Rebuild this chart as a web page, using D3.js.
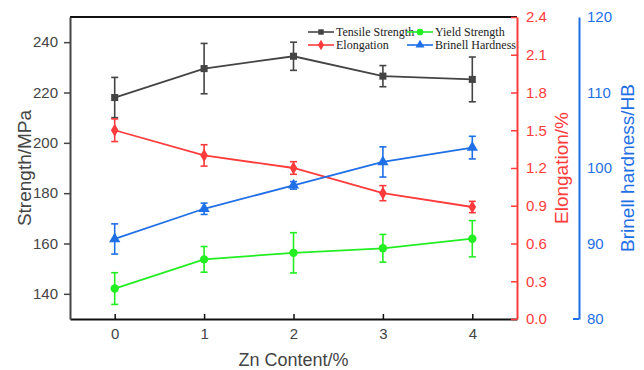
<!DOCTYPE html>
<html>
<head>
<meta charset="utf-8">
<script src="https://cdn.jsdelivr.net/npm/d3@7"></script>
<style>
  body { margin: 0; background: #fff; }
  svg { display: block; }
</style>
</head>
<body>
<script>
// values
const znContent = [0, 1, 2, 3, 4];
const tensile = [218, 229.5, 234.4, 226.5, 225.2];
const tensileErr = [8, 10, 5.6, 4.2, 8.9];
const yieldStrength = [142.1, 153.7, 156.3, 158.1, 161.9];
const yieldErr = [6.3, 5.1, 8, 5.5, 7.2];
const elongation = [1.50, 1.30, 1.20, 1.00, 0.89];
const elongationErr = [0.09, 0.085, 0.05, 0.06, 0.045];
const hardness = [90.6, 94.6, 97.7, 100.8, 102.7];
const hardnessErr = [2, 0.75, 0.5, 2, 1.5];
const strengthTicks = [140, 160, 180, 200, 220, 240];
const elongationTicks = [0, 0.3, 0.6, 0.9, 1.2, 1.5, 1.8, 2.1, 2.4];
const hardnessTicks = [80, 90, 100, 110, 120];

const width = 644, height = 370;
const plotL = 70, plotR = 517, plotT = 17, plotB = 319;
const sans = "Arial, 'Liberation Sans', sans-serif";
const serif = "'Liberation Serif', 'Times New Roman', serif";
const gray = "#444", green = "#22ee22", red = "#ff3b3b", blue = "#1f6fe6";

const svg = d3.select("body").append("svg")
  .attr("width", width)
  .attr("height", height);

const x = d3.scaleLinear().domain([-0.5, 4.5]).range([plotL, plotR]);
const yL = d3.scaleLinear().domain([130, 250]).range([plotB, plotT]);
const yE = d3.scaleLinear().domain([0, 2.4]).range([plotB, plotT]);
const yH = d3.scaleLinear().domain([80, 120]).range([plotB, plotT]);

// top frame line
svg.append("line")
  .attr("x1", plotL).attr("x2", plotR).attr("y1", plotT).attr("y2", plotT)
  .attr("stroke", "#111").attr("stroke-width", 2);

// x axis (ticks point inward)
const xAxis = svg.append("g").attr("transform", `translate(0,${plotB})`);
xAxis.call(d3.axisBottom(x).tickValues([0.5, 1.5, 2.5, 3.5]).tickSizeInner(-3).tickSizeOuter(0).tickFormat(""));
xAxis.call(d3.axisBottom(x).tickValues(znContent).tickSizeInner(-5).tickSizeOuter(0).tickPadding(9).tickFormat(d3.format("d")));
xAxis.selectAll(".domain").attr("stroke", "#111").attr("stroke-width", 2);
xAxis.selectAll(".tick line").attr("stroke", "#111").attr("stroke-width", 1.5);
xAxis.selectAll("text").attr("font-family", sans).attr("font-size", 15).attr("fill", gray);

// left strength axis
const lAxis = svg.append("g").attr("transform", `translate(${plotL},0)`);
lAxis.call(d3.axisLeft(yL).tickValues([150, 170, 190, 210, 230]).tickSizeInner(3).tickSizeOuter(0).tickFormat(""));
lAxis.call(d3.axisLeft(yL).tickValues(strengthTicks).tickSizeInner(6).tickSizeOuter(0).tickPadding(6));
lAxis.selectAll(".domain").attr("stroke", gray).attr("stroke-width", 2);
lAxis.selectAll(".tick line").attr("stroke", gray).attr("stroke-width", 1.5);
lAxis.selectAll("text").attr("font-family", sans).attr("font-size", 15).attr("fill", gray);

// right elongation axis (ticks point inward, labels outside)
const eAxis = svg.append("g").attr("transform", `translate(${plotR},0)`);
eAxis.call(d3.axisRight(yE).tickValues(d3.range(0.15, 2.4, 0.3)).tickSizeInner(-3).tickSizeOuter(0).tickFormat(""));
eAxis.call(d3.axisRight(yE).tickValues(elongationTicks).tickSizeInner(-6).tickSizeOuter(0).tickPadding(9).tickFormat(d3.format(".1f")));
eAxis.selectAll(".domain").attr("stroke", red).attr("stroke-width", 2);
eAxis.selectAll(".tick line").attr("stroke", red).attr("stroke-width", 1.5);
eAxis.selectAll("text").attr("font-family", sans).attr("font-size", 15).attr("fill", red);

// far right hardness axis
const hx = 579;
const hAxis = svg.append("g").attr("transform", `translate(${hx},0)`);
hAxis.call(d3.axisRight(yH).tickValues([85, 95, 105, 115]).tickSizeInner(-3).tickSizeOuter(0).tickFormat(""));
hAxis.call(d3.axisRight(yH).tickValues(hardnessTicks).tickSizeInner(0).tickSizeOuter(0).tickPadding(8));
hAxis.selectAll(".domain").attr("stroke", blue).attr("stroke-width", 2);
hAxis.selectAll(".tick line").attr("stroke", blue).attr("stroke-width", 1.5);
hAxis.selectAll("text").attr("font-family", sans).attr("font-size", 15).attr("fill", blue);
hAxis.append("line").attr("x1", -6).attr("x2", 0).attr("y1", plotB).attr("y2", plotB)
  .attr("stroke", blue).attr("stroke-width", 2);

// axis titles
svg.append("text")
  .attr("transform", `translate(24,${(plotT + plotB) / 2}) rotate(-90)`)
  .attr("text-anchor", "middle").attr("dominant-baseline", "central")
  .attr("font-family", sans).attr("font-size", 19).attr("fill", gray)
  .text("Strength/MPa");
svg.append("text")
  .attr("transform", `translate(561,${(plotT + plotB) / 2}) rotate(-90)`)
  .attr("text-anchor", "middle").attr("dominant-baseline", "central")
  .attr("font-family", sans).attr("font-size", 19).attr("fill", red)
  .text("Elongation/%");
svg.append("text")
  .attr("transform", `translate(627,${(plotT + plotB) / 2}) rotate(-90)`)
  .attr("text-anchor", "middle").attr("dominant-baseline", "central")
  .attr("font-family", sans).attr("font-size", 19).attr("fill", blue)
  .text("Brinell hardness/HB");
svg.append("text")
  .attr("x", x(2)).attr("y", 360)
  .attr("text-anchor", "middle").attr("dominant-baseline", "central")
  .attr("font-family", sans).attr("font-size", 18).attr("fill", gray)
  .text("Zn Content/%");

// marker shapes
const symbols = {
  square: d3.symbol().type(d3.symbolSquare).size(50),
  circle: d3.symbol().type(d3.symbolCircle).size(55),
  diamond: d3.symbol().type(d3.symbolDiamond).size(50),
  triangle: d3.symbol().type(d3.symbolTriangle).size(55)
};

const series = [
  { name: "Tensile Strength", values: tensile, err: tensileErr, y: yL, color: gray, shape: "square" },
  { name: "Yield Strength", values: yieldStrength, err: yieldErr, y: yL, color: green, shape: "circle" },
  { name: "Elongation", values: elongation, err: elongationErr, y: yE, color: red, shape: "diamond" },
  { name: "Brinell Hardness", values: hardness, err: hardnessErr, y: yH, color: blue, shape: "triangle" }
];

series.forEach(s => {
  const pts = znContent.map((z, i) => ({ z, v: s.values[i], e: s.err[i] }));
  const g = svg.append("g");
  g.append("path")
    .datum(pts)
    .attr("fill", "none")
    .attr("stroke", s.color)
    .attr("stroke-width", 1.8)
    .attr("d", d3.line().x(d => x(d.z)).y(d => s.y(d.v)));

  const eb = g.selectAll(".err").data(pts).join("g")
    .attr("stroke", s.color).attr("stroke-width", 1.6);
  eb.append("line")
    .attr("x1", d => x(d.z)).attr("x2", d => x(d.z))
    .attr("y1", d => s.y(d.v - d.e)).attr("y2", d => s.y(d.v + d.e));
  eb.append("line")
    .attr("x1", d => x(d.z) - 3.5).attr("x2", d => x(d.z) + 3.5)
    .attr("y1", d => s.y(d.v + d.e)).attr("y2", d => s.y(d.v + d.e));
  eb.append("line")
    .attr("x1", d => x(d.z) - 3.5).attr("x2", d => x(d.z) + 3.5)
    .attr("y1", d => s.y(d.v - d.e)).attr("y2", d => s.y(d.v - d.e));

  g.selectAll(".mark").data(pts).join("path")
    .attr("transform", d => `translate(${x(d.z)},${s.y(d.v)})`)
    .attr("d", symbols[s.shape]())
    .attr("fill", s.color);
});

// legend
const legendPos = [
  { x: 308, y: 32 }, { x: 407, y: 32 },
  { x: 308, y: 45 }, { x: 407, y: 45 }
];
const legendSym = {
  square: d3.symbol().type(d3.symbolSquare).size(30),
  circle: d3.symbol().type(d3.symbolCircle).size(35),
  diamond: d3.symbol().type(d3.symbolDiamond).size(32),
  triangle: d3.symbol().type(d3.symbolTriangle).size(35)
};
series.forEach((s, i) => {
  const p = legendPos[i];
  const g = svg.append("g").attr("transform", `translate(${p.x},${p.y})`);
  g.append("line").attr("x1", 0).attr("x2", 26).attr("y1", 0).attr("y2", 0)
    .attr("stroke", s.color).attr("stroke-width", 1.6);
  g.append("path").attr("transform", "translate(13,0)")
    .attr("d", legendSym[s.shape]()).attr("fill", s.color);
  g.append("text").attr("x", 28).attr("y", 0)
    .attr("dominant-baseline", "central")
    .attr("font-family", serif).attr("font-size", 12).attr("fill", "#222")
    .text(s.name);
});
</script>
</body>
</html>
